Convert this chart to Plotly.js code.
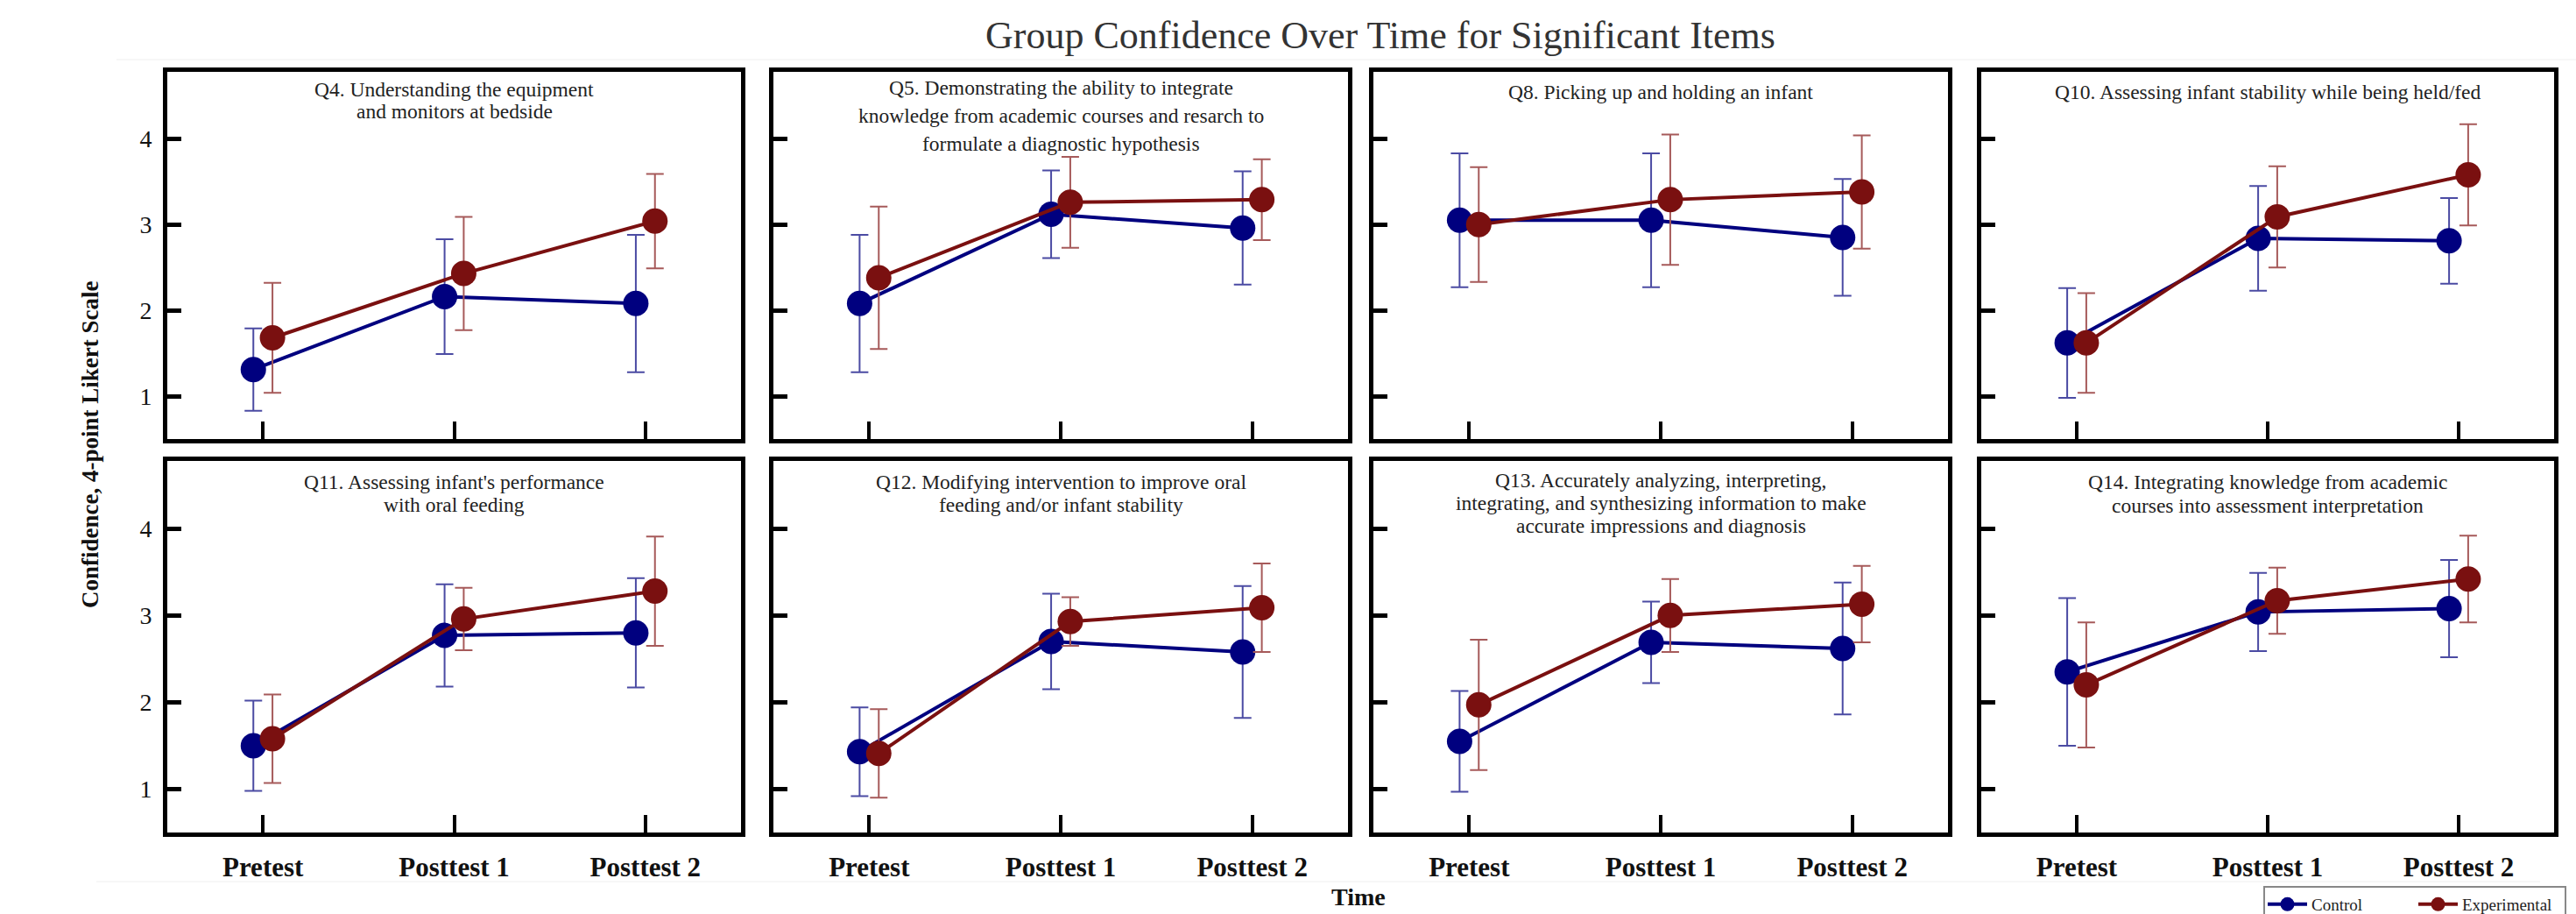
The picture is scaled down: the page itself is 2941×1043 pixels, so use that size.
<!DOCTYPE html>
<html>
<head>
<meta charset="utf-8">
<script src="https://cdn.plot.ly/plotly-3.0.1.min.js"></script>
<style>html,body{margin:0;padding:0;background:#fff;}#chart{width:2941px;height:1043px;}</style>
</head>
<body>
<div id="chart"></div>
<script>
// ---- Data ----
const timeLabels = ['Pretest', 'Posttest 1', 'Posttest 2'];
const panelTitles = [
  'Q4. Understanding the equipment<br>and monitors at bedside',
  'Q5. Demonstrating the ability to integrate<br>knowledge from academic courses and resarch to<br>formulate a diagnostic hypothesis',
  'Q8. Picking up and holding an infant',
  'Q10. Assessing infant stability while being held/fed',
  "Q11. Assessing infant's performance<br>with oral feeding",
  'Q12. Modifying intervention to improve oral<br>feeding and/or infant stability',
  'Q13. Accurately analyzing, interpreting,<br>integrating, and synthesizing information to make<br>accurate impressions and diagnosis',
  'Q14. Integrating knowledge from academic<br>courses into assessment interpretation'
];
const groupNames = ['Control', 'Experimental'];
const controlMean = [
  [1.31, 2.16, 2.08],
  [2.08, 3.12, 2.96],
  [3.05, 3.05, 2.85],
  [1.62, 2.84, 2.81],
  [1.50, 2.77, 2.80],
  [1.43, 2.70, 2.58],
  [1.55, 2.69, 2.62],
  [2.35, 3.04, 3.08]
];
const controlSD = [
  [0.48, 0.67, 0.80],
  [0.80, 0.51, 0.66],
  [0.78, 0.78, 0.68],
  [0.64, 0.61, 0.50],
  [0.52, 0.59, 0.63],
  [0.51, 0.55, 0.76],
  [0.58, 0.47, 0.76],
  [0.85, 0.45, 0.56]
];
const expMean = [
  [1.68, 2.43, 3.04],
  [2.38, 3.26, 3.29],
  [3.00, 3.29, 3.38],
  [1.62, 3.09, 3.58],
  [1.58, 2.96, 3.28],
  [1.41, 2.93, 3.09],
  [1.97, 3.00, 3.13],
  [2.20, 3.17, 3.42]
];
const expSD = [
  [0.64, 0.66, 0.55],
  [0.83, 0.53, 0.47],
  [0.67, 0.76, 0.66],
  [0.58, 0.59, 0.59],
  [0.51, 0.36, 0.63],
  [0.51, 0.28, 0.51],
  [0.75, 0.42, 0.44],
  [0.72, 0.38, 0.50]
];
const yTickVals = [1, 2, 3, 4];

// ---- Layout geometry (pixels in a 2941 x 1043 page) ----
const W = 2941, H = 1043;
const colPx = [[191, 846], [883, 1539], [1568, 2224], [2262, 2916]];
const rowPx = [[82, 501], [526, 950]];
const titleFirstOffset = [20, 18, 23, 23, 24, 24, 22, 24];
const titleLineGap = [25, 32, 26, 26, 26, 26, 26, 27];
const serif = 'Liberation Serif, Times New Roman, serif';
const colors = ['#00007f', '#7a1010'];
const errColors = ['#4b4ba3', '#a65a5a'];
const dodge = [-0.05, 0.05];

const traces = [];
const layout = {
  width: W, height: H,
  margin: {l: 0, r: 0, t: 0, b: 0, pad: 0, autoexpand: false},
  paper_bgcolor: '#ffffff', plot_bgcolor: '#ffffff',
  font: {family: serif, color: '#111'},
  title: {
    text: 'Group Confidence Over Time for Significant Items',
    x: 1576 / W, xanchor: 'center', xref: 'paper',
    y: 1 - 40 / H, yanchor: 'middle', yref: 'paper',
    font: {family: serif, size: 44, color: '#333'}
  },
  showlegend: true,
  legend: {
    orientation: 'h', x: 2930 / W, xanchor: 'right', y: 1 - 1011 / H, yanchor: 'top',
    bordercolor: '#888', borderwidth: 2, bgcolor: '#fff',
    font: {family: serif, size: 19, color: '#222'},
    itemwidth: 45, entrywidth: 112, entrywidthmode: 'pixels'
  },
  annotations: [],
  shapes: [
    {type: 'line', xref: 'paper', yref: 'paper', x0: 133 / W, x1: 1, y0: 1 - 68 / H, y1: 1 - 68 / H, line: {color: '#eeeeee', width: 1}},
    {type: 'line', xref: 'paper', yref: 'paper', x0: 110 / W, x1: 2900 / W, y0: 1 - 1006 / H, y1: 1 - 1006 / H, line: {color: '#eeeeee', width: 1}}
  ]
};

for (let p = 0; p < 8; p++) {
  const r = Math.floor(p / 4), c = p % 4;
  const ax = p === 0 ? '' : String(p + 1);
  const xd = [colPx[c][0] / W, colPx[c][1] / W];
  const yd = [1 - rowPx[r][1] / H, 1 - rowPx[r][0] / H];
  layout['xaxis' + ax] = {
    domain: xd, anchor: 'y' + ax, range: [-0.5, 2.5],
    tickvals: [0, 1, 2], ticktext: timeLabels,
    showticklabels: r === 1,
    tickfont: {family: serif, size: 31, color: '#111', weight: 'bold'},
    ticks: 'inside', ticklen: 20, tickwidth: 4, tickcolor: '#000',
    ticklabelstandoff: 8,
    showline: true, linecolor: '#000', linewidth: 5, mirror: true,
    showgrid: false, zeroline: false, fixedrange: true
  };
  layout['yaxis' + ax] = {
    domain: yd, anchor: 'x' + ax, range: [0.5, 4.78],
    tickvals: yTickVals,
    showticklabels: c === 0,
    tickfont: {family: serif, size: 28, color: '#111'},
    ticks: 'inside', ticklen: 16, tickwidth: 5, tickcolor: '#000',
    ticklabelstandoff: 7,
    showline: true, linecolor: '#000', linewidth: 5, mirror: true,
    showgrid: false, zeroline: false, fixedrange: true
  };
  const means = [controlMean[p], expMean[p]];
  const sds = [controlSD[p], expSD[p]];
  for (let g = 0; g < 2; g++) {
    traces.push({
      type: 'scatter', mode: 'lines+markers',
      name: groupNames[g], legendgroup: groupNames[g], showlegend: p === 0,
      xaxis: 'x' + ax, yaxis: 'y' + ax,
      x: timeLabels.map((_, i) => i + dodge[g]),
      y: means[g],
      error_y: {type: 'data', array: sds[g], visible: true, color: errColors[g], thickness: 2, width: 10},
      line: {color: colors[g], width: 4},
      marker: {color: colors[g], size: 29}
    });
  }
  const lines = panelTitles[p].split('<br>');
  lines.forEach((ln, i) => {
    const cy = rowPx[r][0] + titleFirstOffset[p] + i * titleLineGap[p];
    layout.annotations.push({
      text: ln, showarrow: false,
      xref: 'paper', yref: 'paper',
      x: (xd[0] + xd[1]) / 2, xanchor: 'center',
      y: 1 - cy / H, yanchor: 'middle',
      font: {family: serif, size: 23.5, color: '#222'}, align: 'center'
    });
  });
}

layout.annotations.push({
  text: '<b>Confidence, 4-point Likert Scale</b>', showarrow: false, textangle: -90,
  xref: 'paper', yref: 'paper', x: 103 / W, xanchor: 'center', y: 1 - 508 / H, yanchor: 'middle',
  font: {family: serif, size: 27, color: '#111'}
});
layout.annotations.push({
  text: '<b>Time</b>', showarrow: false,
  xref: 'paper', yref: 'paper', x: 1551 / W, xanchor: 'center', y: 1 - 1041 / H, yanchor: 'bottom',
  font: {family: serif, size: 28, color: '#111'}
});

Plotly.newPlot('chart', traces, layout, {displayModeBar: false, staticPlot: true});
</script>
</body>
</html>
